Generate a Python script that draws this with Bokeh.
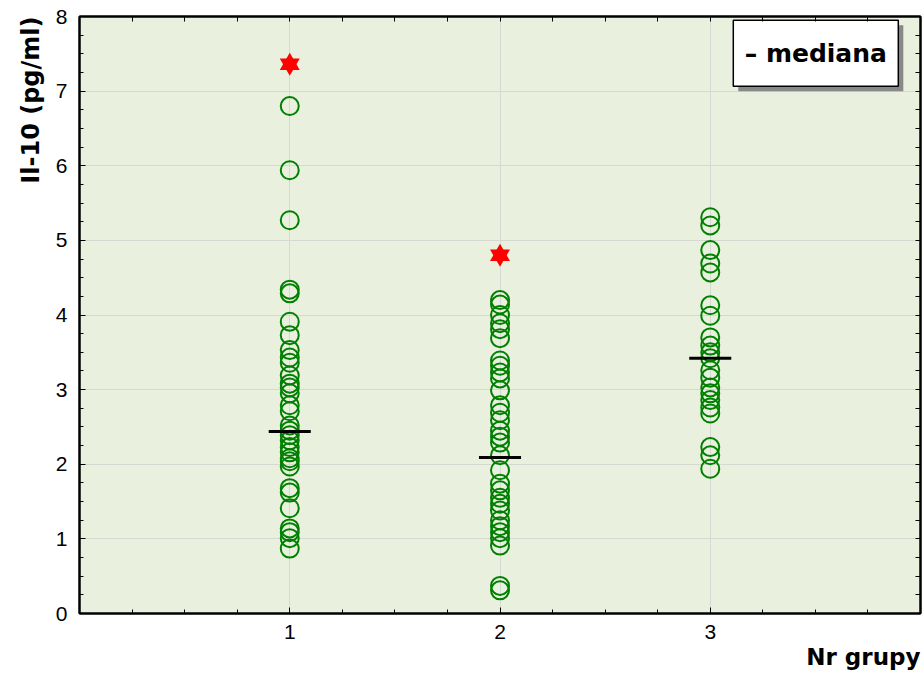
from bokeh.plotting import figure
from bokeh.models import Title, Label, LinearAxis, FixedTicker, Range1d
from bokeh.embed import file_html
from bokeh.resources import INLINE

# ---- data ----
groups = [1, 2, 3]
group1 = [6.80, 5.94, 5.27, 4.34, 4.29, 3.91, 3.73, 3.53, 3.43, 3.36, 3.19, 3.08,
          3.03, 2.95, 2.79, 2.71, 2.52, 2.45, 2.39, 2.32, 2.23, 2.16, 2.08, 2.04,
          1.97, 1.68, 1.62, 1.41, 1.14, 1.09, 1.01, 0.87]
group2 = [4.20, 4.14, 4.00, 3.89, 3.81, 3.69, 3.39, 3.32, 3.23, 3.15, 2.99, 2.79,
          2.69, 2.59, 2.45, 2.37, 2.29, 2.12, 1.92, 1.74, 1.65, 1.55, 1.47, 1.38,
          1.25, 1.17, 1.09, 1.01, 0.91, 0.37, 0.31]
group3 = [5.31, 5.20, 4.87, 4.69, 4.57, 4.13, 3.99, 3.70, 3.59, 3.50, 3.42, 3.26,
          3.16, 3.03, 2.95, 2.86, 2.76, 2.68, 2.23, 2.12, 1.94]
outlier_groups = [1, 2]
outlier_values = [7.36, 4.80]
medians = [2.44, 2.09, 3.42]
x_ticks = [1, 2, 3]
y_ticks = [0, 1, 2, 3, 4, 5, 6, 7, 8]
legend_text = "– mediana"

FONT = "Liberation Sans"
BOLD_FONT = "DejaVu Sans"
quarter_ticks = [i * 0.25 for i in range(33)]

p = figure(width=923, height=675, x_range=Range1d(0, 4), y_range=Range1d(0, 8),
           output_backend="svg", toolbar_location=None,
           min_border_left=79, min_border_right=3, min_border_top=16, min_border_bottom=62)
p.background_fill_color = "#E9F0DE"
p.border_fill_color = "white"
p.outline_line_color = "black"
p.outline_line_width = 2

for ax in (p.xaxis[0], p.yaxis[0]):
    ax.axis_line_width = 2
    ax.axis_line_color = "black"
    ax.major_tick_in = 6
    ax.major_tick_out = 0
    ax.minor_tick_in = 4
    ax.minor_tick_out = 0
    ax.major_label_text_font = FONT
    ax.major_label_text_font_size = "21px"
    ax.major_label_text_color = "black"

p.xaxis.ticker = FixedTicker(ticks=x_ticks, minor_ticks=quarter_ticks)
p.yaxis.ticker = FixedTicker(ticks=y_ticks, minor_ticks=quarter_ticks)
p.xaxis.major_label_standoff = 11
p.yaxis.major_label_standoff = 12

# right and top axes: ticks only, no labels
for loc in ("right", "above"):
    ax = LinearAxis(axis_line_width=2, major_tick_in=0, major_tick_out=0,
                    minor_tick_in=5, minor_tick_out=0)
    ax.ticker = FixedTicker(ticks=[], minor_ticks=quarter_ticks)
    p.add_layout(ax, loc)

p.xgrid.ticker = FixedTicker(ticks=x_ticks)
p.ygrid.ticker = FixedTicker(ticks=y_ticks)
p.grid.grid_line_color = "#D6D9D2"
p.grid.grid_line_width = 1

# data points
for g, vals in zip(groups, [group1, group2, group3]):
    p.scatter([g] * len(vals), vals, marker="circle", size=18,
              fill_color=None, line_color="#008000", line_width=2)

# outliers as six-pointed stars
for mk in ("triangle", "inverted_triangle"):
    p.scatter(outlier_groups, outlier_values, marker=mk, size=20,
              fill_color="red", line_color="red", line_width=0)

# medians
p.segment(x0=[g - 0.1 for g in groups], y0=medians,
          x1=[g + 0.1 for g in groups], y1=medians,
          line_color="black", line_width=3)

# legend box with shadow
lx, ly = 3.502, 7.507
p.rect(x=[lx + 5 / 210.0], y=[ly - 5 / 74.6], width=165, height=66,
       width_units="screen", height_units="screen",
       fill_color="#888888", line_color=None)
p.rect(x=[lx], y=[ly], width=165, height=66,
       width_units="screen", height_units="screen",
       fill_color="white", line_color="black", line_width=1.5)
p.add_layout(Label(x=lx, y=ly, text=legend_text, text_font=BOLD_FONT, text_font_size="25px",
                   text_font_style="bold", text_align="center", text_baseline="middle",
                   text_color="black"))

# axis titles
p.add_layout(Title(text="Nr grupy", align="right", text_font=BOLD_FONT, text_font_size="23px",
                   text_font_style="bold", text_color="black", standoff=0), "below")
p.add_layout(Title(text="Il-10 (pg/ml)", align="right", text_font=BOLD_FONT, text_font_size="24px",
                   text_font_style="bold", text_color="black", standoff=16), "left")

open("out.html", "w").write(file_html(p, INLINE))
